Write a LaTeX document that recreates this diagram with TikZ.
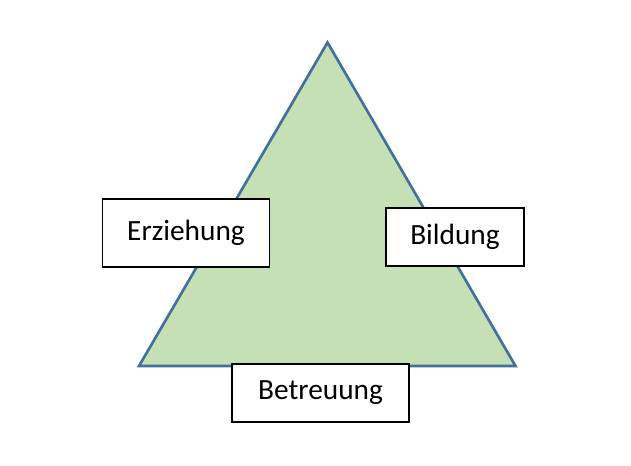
\documentclass[tikz,border=0pt]{standalone}
\usepackage{fontspec}
\setmainfont{Carlito}
\usepackage{tikz}

\definecolor{leaf}{HTML}{C5E0B4}
\definecolor{edgeblue}{HTML}{41719C}

\tikzset{
  textbox/.style={shape=rectangle,draw=black,fill=white,line width=1.2pt,
    inner sep=0pt,font=\fontsize{22}{26}\selectfont},
}

\begin{document}
\begin{tikzpicture}[x=0.75pt,y=-0.75pt]
	\useasboundingbox (0,0) rectangle (631,466);
	
	\coordinate (top)   at (327.5, 42.5);
	\coordinate (left)  at (139, 366);
	\coordinate (right) at (515.5, 366);
	
	\filldraw[fill=leaf, draw=edgeblue, line width=2pt, line join=miter] (top) -- (left) -- (right) -- cycle;
	
	\node[textbox, minimum width=125.5pt, minimum height=51pt] (erz) at (186, 233)   {\raisebox{3pt}{Erziehung}};
	\node[textbox, minimum width=103.5pt, minimum height=43.5pt] (bil) at (455, 237)   {\raisebox{2pt}{Bildung}};
	\node[textbox, minimum width=133pt, minimum height=43.5pt] (bet) at (320.5, 393) {\raisebox{2pt}{Betreuung}};
\end{tikzpicture}
\end{document}
